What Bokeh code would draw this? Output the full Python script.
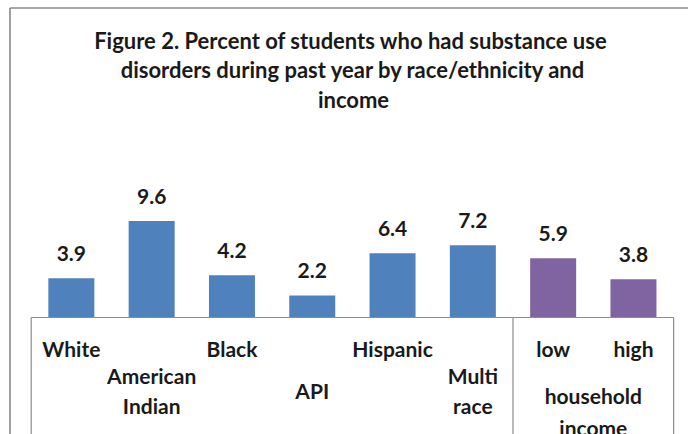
from bokeh.plotting import figure
from bokeh.models import Range1d
from bokeh.core.properties import value
from bokeh.embed import file_html
from bokeh.resources import INLINE

# --- data -------------------------------------------------------------
categories = ["White", "American\nIndian", "Black", "API", "Hispanic",
              "Multi\nrace", "low", "high"]
percents = [3.9, 9.6, 4.2, 2.2, 6.4, 7.2, 5.9, 3.8]
groups = ["race", "race", "race", "race", "race", "race", "income", "income"]
group_label = "household\nincome"
title_text = ("Figure 2.  Percent of students who had substance use\n"
              "disorders during past year by race/ethnicity and\n"
              "income")

# --- layout (pixels) --------------------------------------------------
W, H = 688, 434
X0, CAT_W = 30.7, 80.3          # left edge of the category box, width of one category
BASE_Y, PPU = 317.0, 10.05      # pixel row of the zero line, pixels per percent

def dx(px):
    return (px - X0) / CAT_W

def dy(py):
    return (BASE_Y - py) / PPU

FONT = value("Lato")
BLUE, PURPLE = "#4F81BD", "#8064A2"
GRID_GRAY = "#8c8c8c"
INK = "#1a1a1a"

p = figure(width=W, height=H, output_backend="svg", toolbar_location=None,
           x_range=Range1d(dx(0), dx(W)), y_range=Range1d(dy(H), dy(0)),
           min_border=0, outline_line_color=None,
           background_fill_color="white", border_fill_color="white")
p.axis.visible = False
p.grid.visible = False

n = len(categories)
xs = [i + 0.5 for i in range(n)]
colors = [BLUE if g == "race" else PURPLE for g in groups]

# outer chart border (top and left edges)
p.segment(x0=[dx(9.5), dx(9.5)], y0=[dy(7.5), dy(7.5)],
          x1=[dx(W + 2), dx(9.5)], y1=[dy(7.5), dy(H + 2)],
          line_color="#8a8a8a", line_width=1.6)

# bars
p.vbar(x=xs, top=percents, bottom=0, width=46 / CAT_W,
       fill_color=colors, line_color=None)

# category box: zero line plus group separators
n_race = groups.count("race")
p.segment(x0=[0], y0=[0], x1=[n], y1=[0], line_color=GRID_GRAY, line_width=1.2)
p.segment(x0=[0, n_race, n], y0=[0, 0, 0], x1=[0, n_race, n], y1=[dy(H + 2)] * 3,
          line_color=GRID_GRAY, line_width=1.2)

# value labels
p.text(x=xs, y=percents, text=[f"{v:.1f}" for v in percents], y_offset=-25,
       text_align="center", text_baseline="alphabetic",
       text_font=FONT, text_font_style="bold", text_font_size="21px",
       text_color=INK)

# category labels: race labels staggered on two rows, income labels on the top row
row2 = [i for i in range(n) if groups[i] == "race" and i % 2 == 1]
row1 = [i for i in range(n) if i not in row2]
p.text(x=[xs[i] for i in row1], y=[dy(348)] * len(row1),
       text=[categories[i] for i in row1],
       text_align="center", text_baseline="alphabetic",
       text_font=FONT, text_font_style="bold", text_font_size="21px",
       text_color=INK)
p.text(x=[xs[i] for i in row2], y=[dy(390)] * len(row2),
       text=[categories[i] for i in row2],
       text_align="center", text_baseline="middle", text_line_height=1.2,
       text_font=FONT, text_font_style="bold", text_font_size="21px",
       text_color=INK)

# group label under the income bars
p.text(x=[(n_race + n) / 2], y=[dy(411)], text=[group_label],
       text_align="center", text_baseline="middle", text_line_height=1.25,
       text_font=FONT, text_font_style="bold", text_font_size="21px",
       text_color=INK)

# title
p.text(x=[dx(353)], y=[dy(26)], text=[title_text],
       text_align="center", text_baseline="top", text_line_height=1.1,
       text_font=FONT, text_font_style="bold", text_font_size="22px",
       text_color=INK)

open("out.html", "w").write(file_html(p, INLINE))
